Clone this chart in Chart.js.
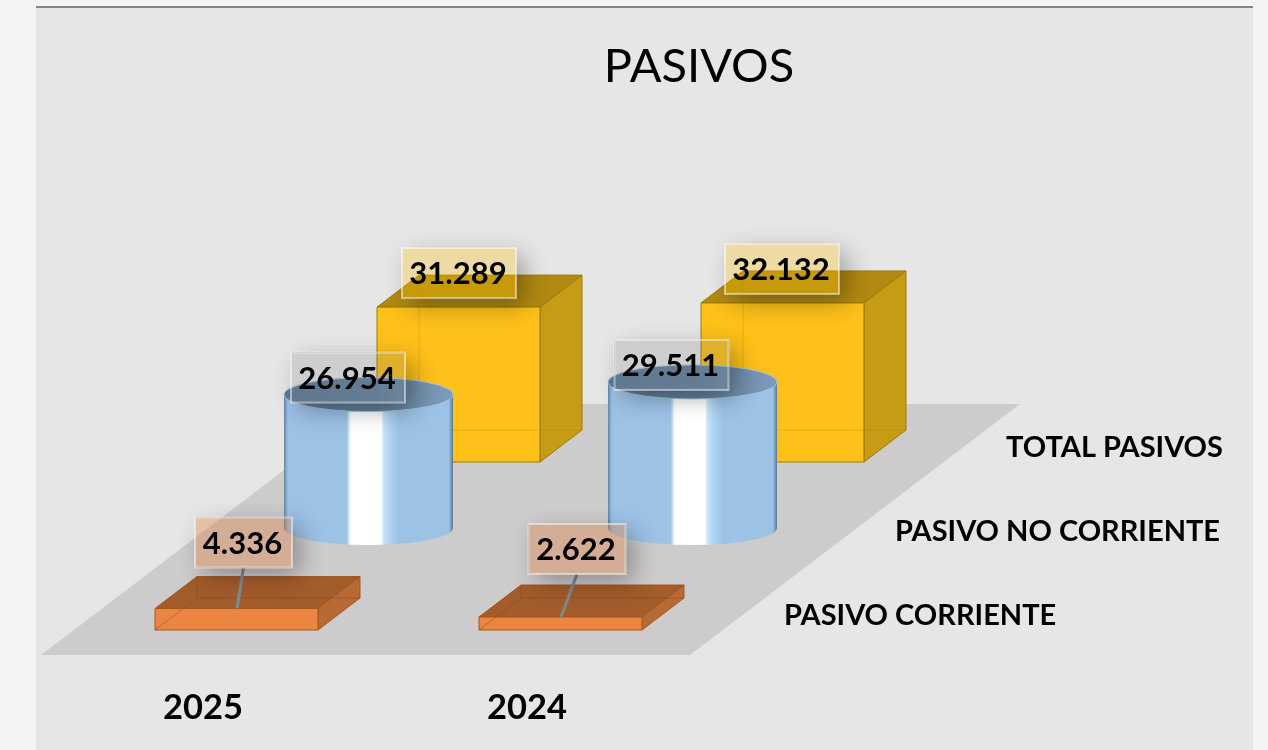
<!DOCTYPE html>
<html lang="es">
<head>
<meta charset="utf-8">
<title>PASIVOS</title>
<style>
html,body{margin:0;padding:0;background:#f4f4f4;}
canvas{display:block;}
</style>
<script src="https://cdn.jsdelivr.net/npm/chart.js@4"></script>
</head>
<body>
<canvas id="c" width="1268" height="750"></canvas>
<script>
const categories = ['2025', '2024'];
const pasivoCorriente = [4336, 2622];
const pasivoNoCorriente = [26954, 29511];
const totalPasivos = [31289, 32132];

const FONT = 'Lato, Carlito, sans-serif';
const STEP = {dx: 111, dy: -84};     // one row further back on the floor
const DEPTH = {dx: 42, dy: -32};     // depth of a box
const fmt = v => String(v).replace(/\B(?=(\d{3})+$)/g, '.');

// where each value label sits relative to the top of its mark, [series][category]
const labelShift = [
  [[7, -66], [16.5, -68]],
  [[-20.5, -17], [-21, -17]],
  [[0.5, -34], [-0.5, -34]]
];
const labelFill = ['rgba(225,120,55,0.36)', 'rgba(110,110,110,0.2)', 'rgba(255,192,0,0.29)'];
const boxStyle = {
  0: {front: '#ea8642', top: '#a35c2c', side: '#b86a34', line: '#a4561f', inner: 'rgba(140,72,25,0.5)'},
  2: {front: '#fdc119', top: '#b08a12', side: '#c69c14', line: '#9c7a08', inner: 'rgba(170,125,0,0.3)'}
};

function poly(ctx, pts) {
  ctx.beginPath();
  pts.forEach((p, i) => i ? ctx.lineTo(p[0], p[1]) : ctx.moveTo(p[0], p[1]));
  ctx.closePath();
}

function drawBox(ctx, el, i, st) {
  const l = el.x - el.width / 2 + STEP.dx * i, r = l + el.width;
  const t = el.y + STEP.dy * i, b = el.base + STEP.dy * i;
  const dx = DEPTH.dx, dy = DEPTH.dy;
  ctx.lineWidth = 1;
  poly(ctx, [[l, t], [r, t], [r + dx, t + dy], [l + dx, t + dy]]);
  ctx.fillStyle = st.top; ctx.fill(); ctx.strokeStyle = st.line; ctx.stroke();
  poly(ctx, [[r, t], [r + dx, t + dy], [r + dx, b + dy], [r, b]]);
  ctx.fillStyle = st.side; ctx.fill(); ctx.stroke();
  poly(ctx, [[l, t], [r, t], [r, b], [l, b]]);
  ctx.fillStyle = st.front; ctx.fill(); ctx.stroke();
  ctx.strokeStyle = st.inner;
  ctx.beginPath();
  ctx.moveTo(l + dx, t + dy); ctx.lineTo(l + dx, b + dy);
  ctx.moveTo(l, b); ctx.lineTo(l + dx, b + dy); ctx.lineTo(r + dx, b + dy);
  ctx.stroke();
}

function drawCylinder(ctx, el, i) {
  const a = topAnchor(el, i);
  const cx = a.x, top = a.y;
  const rx = el.width / 2 + 3, ry = 17;
  const base = top + (el.base - el.y);
  const l = cx - rx, w = rx * 2;
  const g = ctx.createLinearGradient(l, 0, l + w, 0);
  [[0, '#5d7f9e'], [0.012, '#85aacb'], [0.025, '#9cc2e6'], [0.37, '#9cc2e6'], [0.385, '#cfeaf8'], [0.395, '#ffffff'],
   [0.575, '#ffffff'], [0.59, '#c5e4fb'], [0.63, '#aed2f0'], [0.68, '#9cc2e6'], [0.975, '#9cc2e6'], [0.99, '#7496b6'], [1, '#557691']]
    .forEach(s => g.addColorStop(s[0], s[1]));
  ctx.beginPath();
  ctx.moveTo(l, top);
  ctx.lineTo(l, base);
  ctx.ellipse(cx, base, rx, ry, 0, Math.PI, 0, true);
  ctx.lineTo(l + w, top);
  ctx.closePath();
  ctx.fillStyle = g; ctx.fill();
  const t = ctx.createLinearGradient(l, 0, l + w, 0);
  t.addColorStop(0, '#5c7a98'); t.addColorStop(0.55, '#62809e'); t.addColorStop(1, '#7f9db8');
  ctx.beginPath();
  ctx.ellipse(cx, top, rx, ry, 0, 0, Math.PI * 2);
  ctx.fillStyle = t; ctx.fill();
  ctx.strokeStyle = '#a8c6e0'; ctx.lineWidth = 1; ctx.stroke();
}

function topAnchor(el, i) {
  if (i === 1) {
    const base = el.base + STEP.dy + DEPTH.dy / 2 - 2;
    return {x: el.x + STEP.dx + DEPTH.dx / 2, y: base - (el.base - el.y)};
  }
  return {x: el.x + STEP.dx * i, y: el.y + STEP.dy * i};
}

function drawLabel(ctx, text, cx, cy, w, h, fill) {
  const x = cx - w / 2, y = cy - h / 2;
  ctx.save();
  ctx.beginPath();
  ctx.rect(0, 0, 1268, 750);
  ctx.rect(x, y, w, h);
  ctx.clip('evenodd');
  ctx.shadowColor = 'rgba(0,0,0,0.32)';
  ctx.shadowBlur = 24;
  ctx.shadowOffsetX = 8;
  ctx.shadowOffsetY = 8;
  ctx.fillStyle = '#000';
  ctx.fillRect(x, y, w, h);
  ctx.restore();
  ctx.fillStyle = fill;
  ctx.fillRect(x, y, w, h);
  ctx.strokeStyle = 'rgba(255,255,255,0.5)';
  ctx.lineWidth = 2;
  ctx.strokeRect(x, y, w, h);
  ctx.fillStyle = '#000';
  ctx.font = 'bold 31px ' + FONT;
  ctx.textAlign = 'center';
  ctx.textBaseline = 'middle';
  ctx.fillText(text, cx - 1, cy + 1);
}

const scene = {
  id: 'scene',
  afterLayout(chart) {
    const t = chart.titleBlock;
    t.left = 130; t.right = 1268;
  },
  beforeDraw(chart) {
    const ctx = chart.ctx, x = chart.scales.x, y0 = chart.scales.y.getPixelForValue(0);
    ctx.save();
    ctx.fillStyle = '#e6e6e6';
    ctx.fillRect(36, 7, 1217, 743);
    ctx.fillStyle = '#858585';
    ctx.fillRect(36, 6, 1217, 2);
    const fy = y0 + 25, fl = x.left - 33.5, fr = x.right - 32.5;
    poly(ctx, [[fl, fy], [fr, fy], [fr + 330, fy - 251], [fl + 330, fy - 251]]);
    ctx.fillStyle = '#cdcbcb';
    ctx.fill();
    ctx.restore();
  },
  beforeDatasetDraw(chart, args) {
    const ctx = chart.ctx, i = args.index;
    ctx.save();
    args.meta.data.forEach(el => {
      if (i === 1) drawCylinder(ctx, el, i);
      else drawBox(ctx, el, i, boxStyle[i]);
    });
    ctx.restore();
    return false;
  },
  afterDatasetsDraw(chart) {
    const ctx = chart.ctx, x = chart.scales.x, y0 = chart.scales.y.getPixelForValue(0);
    ctx.save();
    // leader lines of the front row
    chart.getDatasetMeta(0).data.forEach((el, c) => {
      const s = labelShift[0][c];
      ctx.strokeStyle = '#7f8a90';
      ctx.lineWidth = 3;
      ctx.beginPath();
      ctx.moveTo(el.x + s[0], el.y + s[1] + 25);
      ctx.lineTo(el.x + 0.5, el.y);
      ctx.stroke();
    });
    [2, 1, 0].forEach(i => {
      const meta = chart.getDatasetMeta(i), ds = chart.data.datasets[i];
      meta.data.forEach((el, c) => {
        const a = topAnchor(el, i), s = labelShift[i][c];
        drawLabel(ctx, fmt(ds.data[c]), a.x + s[0], a.y + s[1], i === 0 ? 97 : 114, 50, labelFill[i]);
      });
      // row name, to the right of the floor
      ctx.fillStyle = '#000';
      ctx.font = 'bold 29px ' + FONT;
      ctx.textAlign = 'left';
      ctx.textBaseline = 'middle';
      ctx.fillText(ds.label, x.right + 61.5 + STEP.dx * i, y0 - 14 + STEP.dy * i);
    });
    ctx.restore();
  }
};

new Chart(document.getElementById('c'), {
  type: 'bar',
  data: {
    labels: categories,
    datasets: [
      {label: 'PASIVO CORRIENTE', data: pasivoCorriente, backgroundColor: '#ed7d31'},
      {label: 'PASIVO NO CORRIENTE', data: pasivoNoCorriente, backgroundColor: '#9dc3e6'},
      {label: 'TOTAL PASIVOS', data: totalPasivos, backgroundColor: '#ffc000'}
    ]
  },
  plugins: [scene],
  options: {
    responsive: false,
    animation: false,
    grouped: false,
    barPercentage: 0.503,
    categoryPercentage: 1,
    layout: {padding: {left: 74.5, right: 545.5, top: 0, bottom: 0}},
    plugins: {
      legend: {display: false},
      tooltip: {enabled: false},
      title: {
        display: true,
        text: 'PASIVOS',
        color: '#000',
        font: {family: FONT, size: 47, weight: 'normal', lineHeight: 1.2},
        padding: {top: 39, bottom: 0}
      }
    },
    scales: {
      x: {
        grid: {display: false, drawTicks: false},
        border: {display: false},
        afterFit(s) { s.height = 120; },
        ticks: {
          color: '#000',
          font: {family: FONT, size: 34.5, weight: 'bold', lineHeight: 1.2},
          labelOffset: -33.5,
          padding: 57.5,
          maxRotation: 0,
          autoSkip: false
        }
      },
      y: {display: false, min: 0, max: 107999}
    }
  }
});
</script>
</body>
</html>
